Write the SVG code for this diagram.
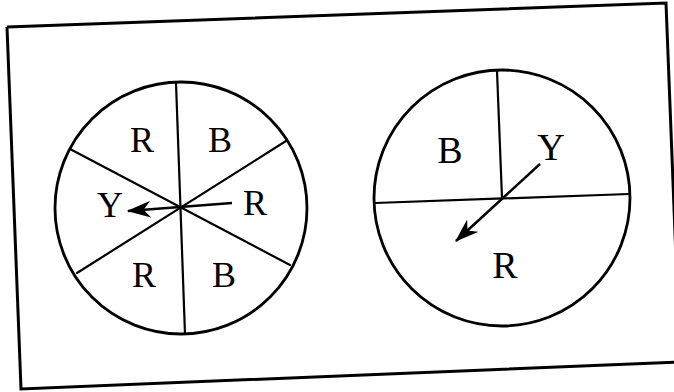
<svg xmlns="http://www.w3.org/2000/svg" width="674" height="392" viewBox="0 0 674 392">
<style>
.frame{fill:none;stroke:#000;stroke-width:3;stroke-linejoin:miter}
.rim{fill:none;stroke:#000;stroke-width:2.8}
.div{fill:none;stroke:#000;stroke-width:2.2;stroke-linecap:round}
.arr{fill:none;stroke:#000;stroke-width:2.4}
.lbl{font-family:"Liberation Serif","Times New Roman",serif;fill:#000;text-anchor:middle}
.l1{font-size:36px}
.l2{font-size:38px}
</style>
<defs>
<marker id="head" viewBox="0 0 20 14" markerWidth="24" markerHeight="17" refX="19" refY="7" orient="auto" markerUnits="userSpaceOnUse">
<path d="M0,0 L20,7 L0,14 L6,7 z" fill="#000"/>
</marker>
</defs>
<rect width="674" height="392" fill="#fff"/>
<g id="frame">
<path class="frame" d="M7,27 L666,3 L680,362 M7,27 L21,389 L680,362"/>
</g>
<g id="spinner-left">
<circle class="rim" cx="181" cy="208" r="126"/>
<line class="div" x1="176" y1="83" x2="185" y2="334"/>
<line class="div" x1="70" y1="149" x2="290" y2="265"/>
<line class="div" x1="286" y1="141" x2="77" y2="273"/>
<text class="lbl l1" x="142" y="152">R</text>
<text class="lbl l1" x="220" y="152">B</text>
<text class="lbl l1" x="110" y="217">Y</text>
<text class="lbl l1" x="255" y="215">R</text>
<text class="lbl l1" x="144" y="287">R</text>
<text class="lbl l1" x="224" y="287">B</text>
</g>
<g id="spinner-right">
<circle class="rim" cx="502" cy="198" r="128"/>
<line class="div" x1="497" y1="71" x2="502" y2="198"/>
<line class="div" x1="375" y1="203" x2="629" y2="194"/>
<text class="lbl l2" x="450" y="163">B</text>
<text class="lbl l2" x="551" y="160">Y</text>
<text class="lbl l2" x="505" y="278">R</text>
</g>
<g id="connectors">
<line class="arr" x1="232" y1="203" x2="128" y2="211" marker-end="url(#head)"/>
<line class="arr" x1="540" y1="164" x2="456" y2="241" marker-end="url(#head)"/>
</g>
</svg>
